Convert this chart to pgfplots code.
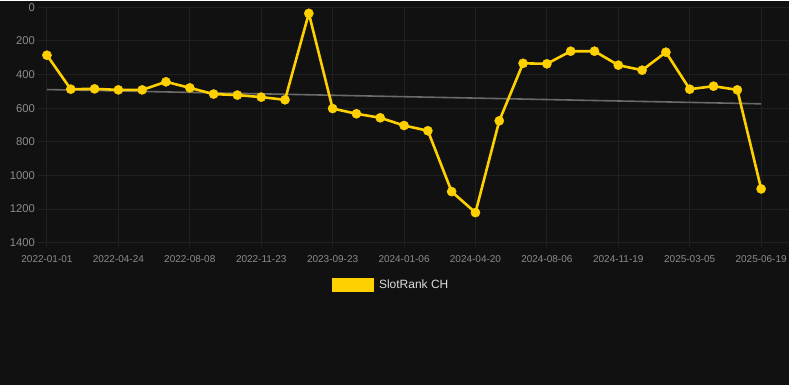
\documentclass[border=0pt]{standalone}
\usepackage{fontspec}
\setmainfont{Liberation Sans}
\usepackage{pgfplots}
\pgfplotsset{compat=1.18}
\definecolor{bg}{HTML}{111111}
\definecolor{gridc}{HTML}{202020}
\definecolor{tickc}{HTML}{8C8C8C}
\definecolor{lineY}{HTML}{FFD000}
\definecolor{trend}{HTML}{6A6A6A}
\definecolor{legc}{HTML}{DDDDDD}
\begin{document}
\begin{tikzpicture}[x=1pt,y=1pt]
\fill[bg] (0,0) rectangle (790,384);
\begin{axis}[
  at={(38pt,142pt)}, anchor=south west,
  scale only axis, width=752pt, height=235.7pt,
  xmin=-0.378, xmax=31.17, ymin=0, ymax=1400, y dir=reverse,
  axis line style={draw=none},
  grid=major, major grid style={draw=gridc, line width=1pt},
  xtick={0,3,...,30},
  xticklabels={2022-01-01,2022-04-24,2022-08-08,2022-11-23,2023-09-23,2024-01-06,2024-04-20,2024-08-06,2024-11-19,2025-03-05,2025-06-19},
  ytick={0,200,...,1400},
  xtick pos=bottom, ytick pos=left,
  tick align=outside,
  major tick length=4pt,
  xtick style={draw=gridc, line width=1pt},
  ytick style={draw=none},
  /pgf/number format/assume math mode=true,
  /pgf/number format/1000 sep={},
  xticklabel style={text=tickc, font=\fontsize{10}{12}\selectfont, yshift=-5.5pt},
  yticklabel style={text=tickc, font=\fontsize{11.3}{13}\selectfont, xshift=4.5pt},
  legend style={at={(0.470,-0.178)}, anchor=center, fill=none, draw=none,
    text=legc, font=\fontsize{12}{14}\selectfont, column sep=3pt},
  clip=false,
]
\addplot[trend, line width=1.6pt, forget plot] coordinates {(0,489) (30,574)};
\addplot[lineY, line width=2.6pt, mark=*, mark size=4.6pt,
  mark options={solid, fill=lineY, draw=lineY, line width=0.4pt},
  legend image code/.code={\fill[lineY] (0pt,-5.7pt) rectangle (40pt,5.7pt);}]
coordinates {
(0,285) (1,487) (2,485) (3,491) (4,491) (5,443) (6,479) (7,516) (8,522) (9,534)
(10,550) (11,36) (12,602) (13,633) (14,657) (15,703) (16,734) (17,1096) (18,1221) (19,675)
(20,333) (21,336) (22,261) (23,261) (24,344) (25,374) (26,267) (27,487) (28,469) (29,491)
(30,1080)
};
\addlegendentry{SlotRank CH}
\end{axis}
\end{tikzpicture}
\end{document}
